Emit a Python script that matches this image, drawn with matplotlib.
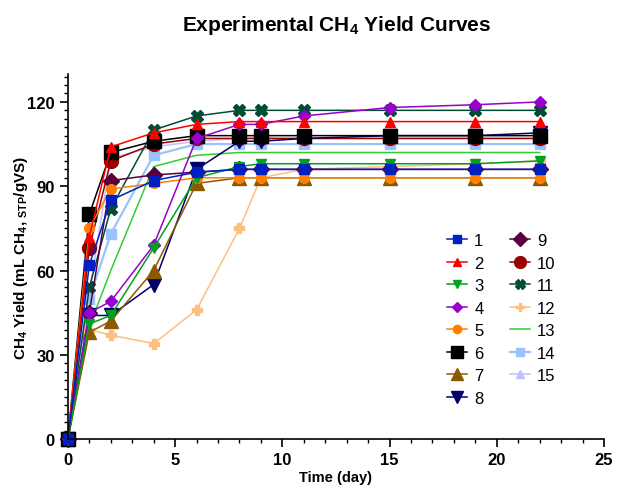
import matplotlib
matplotlib.use("Agg")
from matplotlib import pyplot as plt
from matplotlib.ticker import MultipleLocator

plt.rcParams['font.family'] = ['Liberation Sans', 'DejaVu Sans']
plt.rcParams['mathtext.default'] = 'regular'

times = [0, 1, 2, 4, 6, 8, 9, 11, 15, 19, 22]

s1 = [0, 62, 85, 92, 95, 96, 96, 96, 96, 96, 96]
s2 = [0, 72, 104, 109, 112, 113, 113, 113, 113, 113, 113]
s3 = [0, 41, 44, 68, 93, 97, 98, 98, 98, 98, 99]
s4 = [0, 45, 49, 69, 107, 112, 112, 115, 118, 119, 120]
s5 = [0, 75, 89, 91, 93, 93, 93, 93, 93, 93, 93]
s6 = [0, 80, 102, 106, 108, 108, 108, 108, 108, 108, 108]
s7 = [0, 38, 42, 60, 91, 93, 93, 93, 93, 93, 93]
s8 = [0, 44, 44, 55, 96, 106, 106, 107, 108, 108, 109]
s9 = [0, 45, 92, 94, 95, 96, 96, 96, 96, 96, 96]
s10 = [0, 68, 99, 105, 107, 107, 107, 107, 107, 107, 107]
s11 = [0, 54, 82, 110, 115, 117, 117, 117, 117, 117, 117]
s12 = [0, 39, 37, 34, 46, 75, 93, 96, 97, 98, 99]
s13 = [0, 40, 60, 97, 101, 102, 102, 102, 102, 102, 102]
s14 = [0, 50, 73, 101, 105, 105, 105, 105, 105, 105, 105]
s15 = [0, 52, 100, 104, 106, 107, 107, 107, 107, 107, 107]

series = [s1, s2, s3, s4, s5, s6, s7, s8, s9, s10, s11, s12, s13, s14, s15]
labels = [str(i) for i in range(1, 16)]
colors = ['#0020c0', '#ff0000', '#00a020', '#9900cc', '#ff8000', '#000000',
          '#8b5a00', '#000066', '#5a0040', '#990000', '#004d33', '#fdbf80',
          '#33cc33', '#99c2ff', '#c0c0ff']
markers = ['s', '^', 'v', 'D', 'o', 's', '^', 'v', 'D', 'o', 'X', 'P', '', 's', '^']
sizes = [7, 7, 7, 6, 7, 10, 10, 10, 8, 10, 8, 7, 0, 7, 7]
widths = [1.1] * 13 + [1.6, 1.1]

fig = plt.figure(figsize=(6.17, 4.89), dpi=100)
ax = fig.add_axes([0.110, 0.100, 0.869, 0.747])

handles = [None] * 15
for i in reversed(range(15)):
    h, = ax.plot(times, series[i], color=colors[i], marker=markers[i] or None,
                 markersize=sizes[i], linewidth=widths[i], label=labels[i], clip_on=False)
    handles[i] = h

ax.set_xlim(0, 25)
ax.set_ylim(0, 130)
ax.set_xticks([0, 5, 10, 15, 20, 25])
ax.set_yticks([0, 30, 60, 90, 120])
ax.xaxis.set_minor_locator(MultipleLocator(1))
ax.yaxis.set_minor_locator(MultipleLocator(3))
ax.tick_params(which='major', direction='out', length=6, width=1.2, labelsize=12)
ax.tick_params(which='minor', direction='out', length=3, width=1)
for lab in ax.get_xticklabels() + ax.get_yticklabels():
    lab.set_fontweight('bold')
ax.spines['top'].set_visible(False)
ax.spines['right'].set_visible(False)
ax.spines['left'].set_linewidth(1.2)
ax.spines['bottom'].set_linewidth(1.2)

ax.set_xlabel('Time (day)', fontsize=10.5, fontweight='bold', labelpad=2)
ax.set_ylabel('CH$_4$ Yield (mL CH$_4$, $_{STP}$/gVS)', fontsize=11, fontweight='bold', labelpad=-2)
fig.suptitle('Experimental CH$_4$ Yield Curves', x=0.545, y=0.972, fontsize=15, fontweight='bold')

ax.legend(handles=handles, ncol=2, frameon=False, fontsize=12,
          loc='upper left', bbox_to_anchor=(0.68, 0.605), handlelength=1.2,
          handletextpad=0.4, columnspacing=1.6, labelspacing=0.45, markerscale=0.85)

fig.savefig('out.png', dpi=100)
